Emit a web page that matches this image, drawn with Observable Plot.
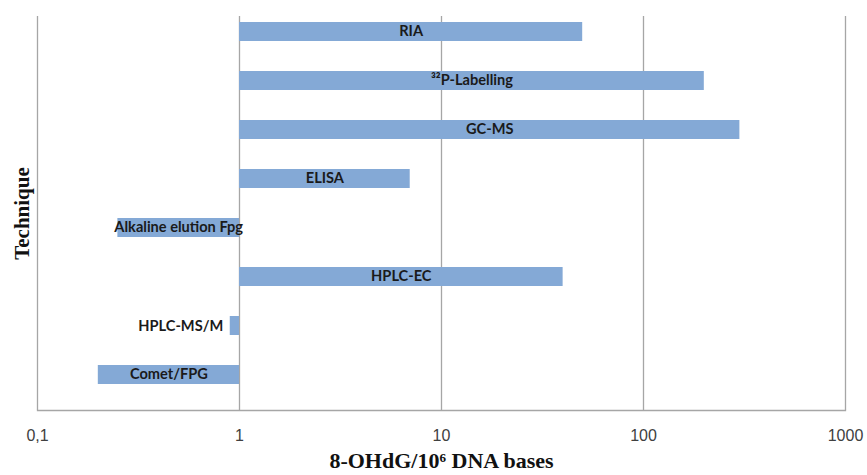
<!DOCTYPE html>
<html><head><meta charset="utf-8">
<script src="https://cdn.jsdelivr.net/npm/d3@7"></script>
<script src="https://cdn.jsdelivr.net/npm/@observablehq/plot@0.6"></script>
<style>
body{margin:0;background:#fff}
#chart svg g[aria-label="x-axis tick label"] text{font-size:16px;font-family:"Liberation Sans",Arial,sans-serif;fill:#404040}
</style>
</head><body><div id="chart"></div>
<script>
const techniques = ["RIA","³²P-Labelling","GC-MS","ELISA","Alkaline elution Fpg","HPLC-EC","HPLC-MS/M","Comet/FPG"];
const rangeLow  = [1, 1, 1, 1, 0.25, 1, 0.9, 0.2];
const rangeHigh = [50, 200, 300, 7, 1, 40, 1, 1];
const xTicks = [0.1, 1, 10, 100, 1000];
const xTitle = "8-OHdG/10⁶ DNA bases";
const yTitle = "Technique";

const data = techniques.map((t, i) => ({
  technique: t,
  lo: rangeLow[i],
  hi: rangeHigh[i],
  mid: Math.sqrt(rangeLow[i] * rangeHigh[i]),
  narrow: Math.log10(rangeHigh[i] / rangeLow[i]) < 0.2
}));

const labelStyle = {fontFamily: "Lato", fontWeight: "bold", fontSize: 14.6, fill: "#1a1a1a"};
const titleStyle = {fontFamily: "Liberation Serif", fontWeight: "bold", fontSize: 21, fill: "#111"};

const chart = Plot.plot({
  width: 867, height: 475,
  marginLeft: 37, marginRight: 22, marginTop: 16, marginBottom: 65,
  style: {background: "#fff", fontFamily: "Lato"},
  x: {type: "log", domain: [0.1, 1000]},
  y: {domain: techniques, paddingInner: 0.615, paddingOuter: 0.2955, align: 0.2, axis: null},
  marks: [
    Plot.ruleX(xTicks, {stroke: "#a6a6a6", strokeWidth: 1.3}),
    Plot.frame({anchor: "bottom", stroke: "#a6a6a6", strokeWidth: 1.3}),
    Plot.barX(data, {x1: "lo", x2: "hi", y: "technique", fill: "#84a9d6"}),
    Plot.text(data.filter(d => !d.narrow), {x: "mid", y: "technique", text: "technique", dy: -1, ...labelStyle}),
    Plot.text(data.filter(d => d.narrow), {x: "lo", y: "technique", text: "technique", textAnchor: "end", dx: -7, ...labelStyle}),
    Plot.axisX({ticks: xTicks, tickSize: 0, tickPadding: 19, tickFormat: d => String(d).replace(".", ","), label: null}),
    Plot.text([xTitle], {frameAnchor: "bottom", dy: 57, text: d => d, ...titleStyle, fontSize: 22}),
    Plot.text([yTitle], {frameAnchor: "left", rotate: -90, dx: -15, textAnchor: "middle", text: d => d, ...titleStyle})
  ]
});
document.getElementById("chart").appendChild(chart);
</script>
</body></html>
